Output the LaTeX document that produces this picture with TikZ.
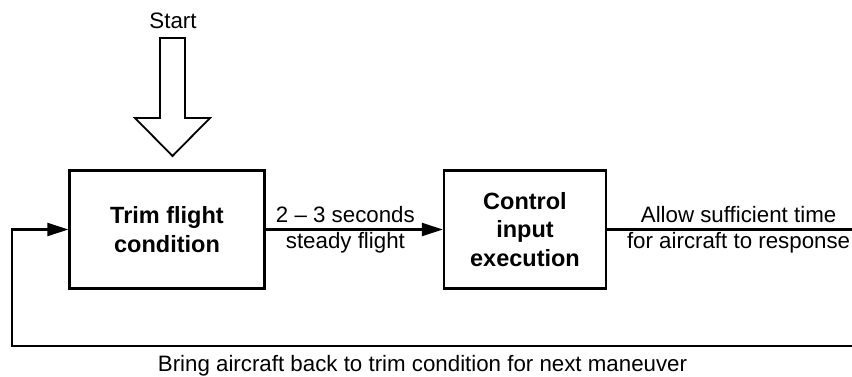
\documentclass[tikz,border=0pt]{standalone}
\usepackage{fontspec}
\setmainfont{Liberation Sans}
\usetikzlibrary{arrows.meta}
\tikzset{
  blockbox/.style={draw, line width=2.3pt, minimum width=195pt, minimum height=118pt, inner sep=0pt, align=center,
    font=\fontsize{23.5}{28.5}\selectfont\bfseries},
  flowline/.style={line width=2.2pt},
  arrowtip/.style={-{Triangle[length=21pt,width=13pt]}},
  lbl/.style={font=\fontsize{22.3}{25.5}\selectfont, align=center, inner sep=0pt},
  bigarrow/.style={draw, line width=1.8pt, fill=white, line join=miter}
}
\begin{document}
\begin{tikzpicture}[x=1pt,y=-1pt]
\useasboundingbox (0,0) rectangle (852,377);
\begin{scope}
\clip (0,0) rectangle (852,377);
\node[blockbox] (trim) at (167,229.5) {Trim flight\\condition};
\node[blockbox, minimum width=162pt] (ctrl) at (525,229.5) {Control\\input\\execution};
\coordinate (rt) at (870,229.5);
\coordinate (rb) at (870,346);
\coordinate (lb) at (12,346);
\coordinate (lt) at (12,229.5);
\draw[flowline, arrowtip] (trim.east) -- node[lbl, pos=0.45] (l1) {2 – 3 seconds\\steady flight} (ctrl.west);
\draw[flowline, arrowtip] (ctrl.east) -- node[lbl, pos=0.5] (l2) {Allow sufficient time\\for aircraft to response} (rt) -- (rb) -- (lb) -- (lt) -- (trim.west);
\node[lbl, anchor=base] (l3) at (422.5,371) {Bring aircraft back to trim condition for next maneuver};
\node[lbl, anchor=base] (start) at (173,29) {Start};
\draw[bigarrow] (160,38) -- (185,38) -- (185,118) -- (210,118) -- (172.5,156) -- (135,118) -- (160,118) -- cycle;
\end{scope}
\end{tikzpicture}
\end{document}
